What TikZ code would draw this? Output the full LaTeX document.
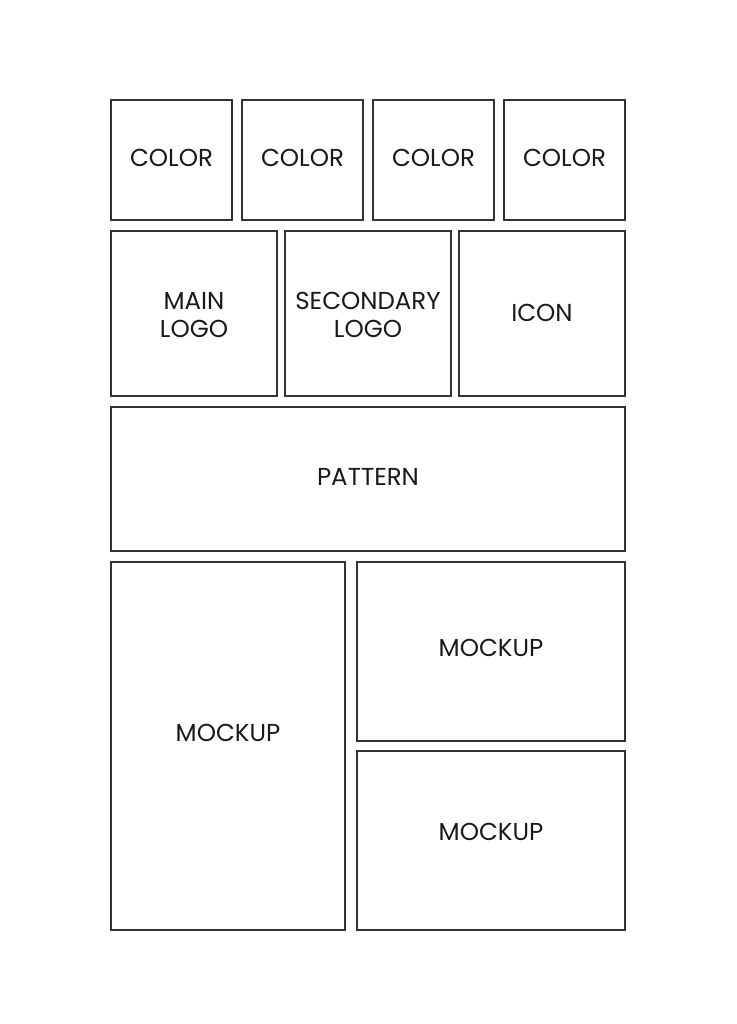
\documentclass[tikz,border=0pt]{standalone}
\usepackage{fontspec}
\setmainfont{Poppins}
\usepackage{xcolor}
\definecolor{edge}{HTML}{333333}
\definecolor{ink}{HTML}{1A1A1A}

\begin{document}
\begin{tikzpicture}[x=1pt, y=-1pt,
  box/.style={draw=edge, line width=1.3pt},
  lbl/.style={text=ink, font=\fontsize{24.5}{28}\selectfont, align=center, inner sep=0}]
\useasboundingbox (0,0) rectangle (736,1024);
\fill[white] (0,0) rectangle (736,1024);
% colour swatches
\foreach \x [count=\i] in {111,242,373,504} {
 \draw[box] (\x,100) rectangle ++(121,120);
 \node[lbl] (color\i) at (\x+60.5,158) {COLOR};
}
% logos
\draw[box] (111,231) rectangle (277,396);
\node[lbl] (mainlogo) at (194,315) {MAIN\\LOGO};
\draw[box] (285,231) rectangle (451,396);
\node[lbl] (seclogo) at (368,315) {SECONDARY\\LOGO};
\draw[box] (459,231) rectangle (625,396);
\node[lbl] (icon) at (542,313) {ICON};
% pattern
\draw[box] (111,407) rectangle (625,551);
\node[lbl] (pattern) at (368,477) {PATTERN};
% mockups
\draw[box] (111,562) rectangle (345,930);
\node[lbl] (mockbig) at (228,733) {MOCKUP};
\draw[box] (357,562) rectangle (625,741);
\node[lbl] (mocktop) at (491,648) {MOCKUP};
\draw[box] (357,751) rectangle (625,930);
\node[lbl] (mockbot) at (491,832) {MOCKUP};
\end{tikzpicture}
\end{document}
